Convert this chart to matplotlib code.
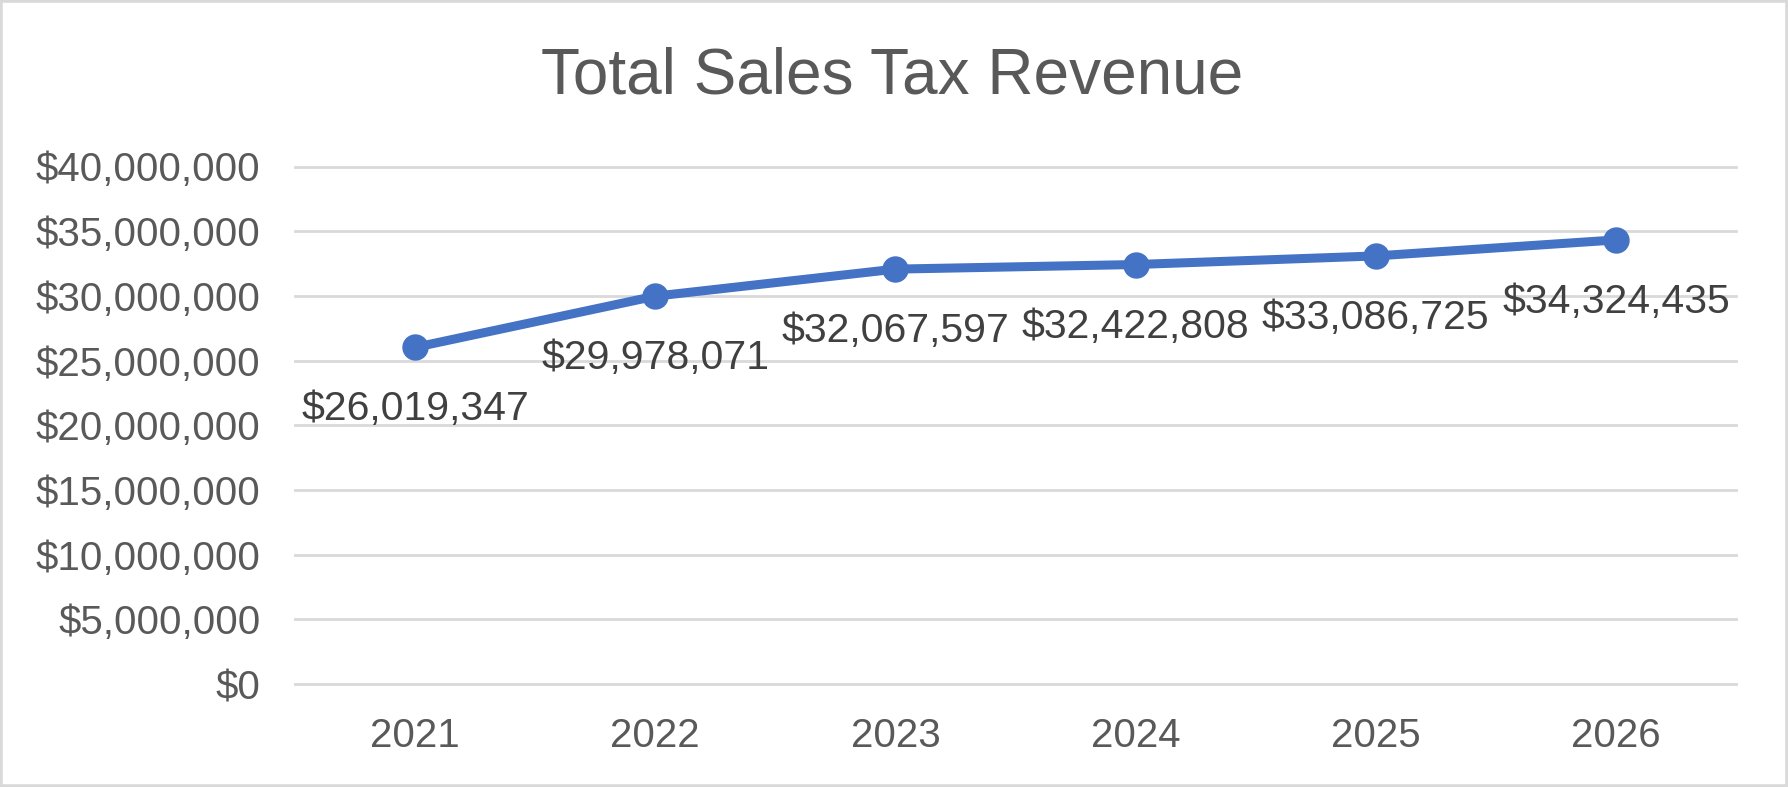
import matplotlib
matplotlib.use('Agg')
import matplotlib.pyplot as plt
import matplotlib.ticker as mtick
from matplotlib.patches import Rectangle

years = ['2021', '2022', '2023', '2024', '2025', '2026']
revenue = [26019347, 29978071, 32067597, 32422808, 33086725, 34324435]

plt.rcParams['font.family'] = ['Liberation Sans', 'DejaVu Sans']

fig = plt.figure(figsize=(17.88, 7.87), dpi=100)
ax = fig.add_axes([295 / 1788, 1 - 684 / 787, (1736 - 295) / 1788, (684 - 166.5) / 787])

x = list(range(len(years)))
ax.plot(x, revenue, color='#4472C4', linewidth=6.5, marker='o', markersize=18,
        solid_capstyle='round', zorder=3, clip_on=False)

for xi, v in zip(x, revenue):
    ax.annotate('${:,}'.format(v), (xi, v), xytext=(0, -62), textcoords='offset pixels',
                ha='center', va='center', fontsize=29.5, color='#404040', zorder=4)

ax.set_xlim(-0.5, len(years) - 0.5)
ax.set_ylim(0, 40000000)
ax.set_yticks(range(0, 40000001, 5000000))
ax.yaxis.set_major_formatter(mtick.FuncFormatter(lambda v, p: '${:,.0f}'.format(v)))
ax.set_xticks(x)
ax.set_xticklabels(years)

ax.grid(axis='y', color='#D9D9D9', linewidth=2)
for gl in ax.get_ygridlines():
    gl.set_clip_on(False)
ax.set_axisbelow(True)
for s in ax.spines.values():
    s.set_visible(False)
ax.tick_params(axis='both', length=0, labelsize=29, labelcolor='#595959')
ax.tick_params(axis='y', pad=25)
ax.tick_params(axis='x', pad=24)

fig.text(782 * 1.1403 / 1788, 1 - 76 / 787, 'Total Sales Tax Revenue', ha='center', va='center',
         fontsize=46, color='#595959')

fig.patches.append(Rectangle((0, 0), 1, 1, transform=fig.transFigure, fill=False,
                             edgecolor='#D9D9D9', linewidth=4))

fig.savefig('out.png', dpi=100)
